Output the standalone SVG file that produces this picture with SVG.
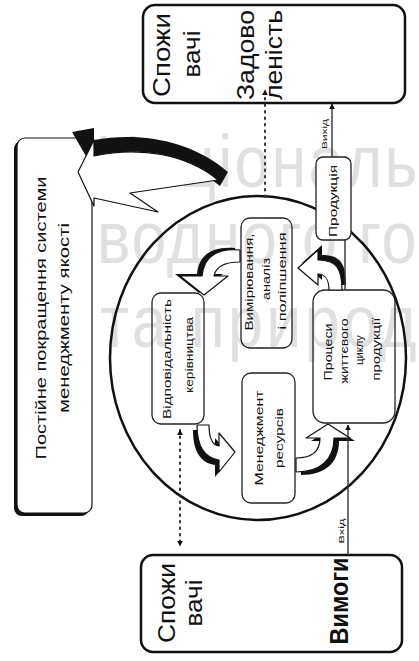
<svg xmlns="http://www.w3.org/2000/svg" width="419" height="661" viewBox="0 0 419 661">
<defs>
<marker id="ah" viewBox="0 0 10 10" refX="9" refY="5" markerWidth="6" markerHeight="6" markerUnits="userSpaceOnUse" orient="auto-start-reverse"><path d="M0,0 L10,5 L0,10 Z" fill="#111"/></marker>
</defs>
<style>
text{font-family:"Liberation Sans",Arial,sans-serif;fill:#111}
.big{font-size:24px}
.bold{font-size:26px;font-weight:bold}
.md{font-size:15px}
.sm{font-size:10px}
.xs{font-size:7px}
.wm{font-size:74px;fill:#e0e0e0}
.box{fill:#fff;stroke:#111;stroke-width:2.5}
.ib{fill:none;stroke:#222;stroke-width:1.3}
.dot{stroke:#333;stroke-width:2;stroke-dasharray:1.5 5;stroke-linecap:round;fill:none}
.ln{stroke:#333;stroke-width:1.4;fill:none}
.sh{fill:#111}
.wa{fill:#fff;stroke:#111;stroke-width:1.2;stroke-linejoin:round}
</style>
<rect width="419" height="661" fill="#fff"/>

<!-- watermark -->
<g id="watermark" transform="scale(0.85,1)">
<text class="wm" x="112" y="187" textLength="379" lengthAdjust="spacing">Національ</text>
<text class="wm" x="114" y="263" textLength="376" lengthAdjust="spacing">водного го</text>
<text class="wm" x="118" y="347" textLength="372" lengthAdjust="spacing">та природ</text>
</g>

<!-- circle -->
<ellipse id="circle" cx="258" cy="358" rx="148" ry="162" fill="none" stroke="#111" stroke-width="2.5"/>

<g id="improvement">
<rect x="14" y="141" width="75" height="375" rx="8" class="sh"/>
<rect x="17" y="138" width="75" height="375" rx="8" fill="#fff" stroke="#111" stroke-width="1.2"/>
<text class="md" x="46" y="318" transform="rotate(-90 46 318)" text-anchor="middle" textLength="283" lengthAdjust="spacingAndGlyphs">Постійне покращення системи</text>
<text class="md" x="69" y="318" transform="rotate(-90 69 318)" text-anchor="middle" textLength="190" lengthAdjust="spacingAndGlyphs">менеджменту якості</text>
</g>

<g id="customers-top">
<rect x="143" y="5" width="262" height="98" rx="12" class="box"/>
<text class="big" x="170" y="55" transform="rotate(-90 170 55)" text-anchor="middle" textLength="84" lengthAdjust="spacingAndGlyphs">Спожи</text>
<text class="big" x="200" y="54" transform="rotate(-90 200 54)" text-anchor="middle" textLength="47" lengthAdjust="spacingAndGlyphs">вачі</text>
<text class="big" x="254" y="55" transform="rotate(-90 254 55)" text-anchor="middle" textLength="90" lengthAdjust="spacingAndGlyphs">Задово</text>
<text class="big" x="282" y="55" transform="rotate(-90 282 55)" text-anchor="middle" textLength="90" lengthAdjust="spacingAndGlyphs">леність</text>
</g>

<g id="customers-bottom">
<rect x="141" y="555" width="261" height="97" rx="12" class="box"/>
<text class="big" x="175" y="603" transform="rotate(-90 175 603)" text-anchor="middle" textLength="80" lengthAdjust="spacingAndGlyphs">Спожи</text>
<text class="big" x="202" y="603" transform="rotate(-90 202 603)" text-anchor="middle" textLength="47" lengthAdjust="spacingAndGlyphs">вачі</text>
<text class="bold" x="348" y="601" transform="rotate(-90 348 601)" text-anchor="middle" textLength="87" lengthAdjust="spacingAndGlyphs">Вимоги</text>
</g>

<g id="management">
<rect x="152" y="293" width="52" height="131" rx="9" class="ib"/>
<text class="sm" x="171" y="359" transform="rotate(-90 171 359)" text-anchor="middle" textLength="120" lengthAdjust="spacingAndGlyphs">Відповідальність</text>
<text class="sm" x="193" y="355" transform="rotate(-90 193 355)" text-anchor="middle" textLength="76" lengthAdjust="spacingAndGlyphs">керівництва</text>
</g>

<g id="measurement">
<rect x="241" y="218" width="51" height="130" rx="9" class="ib"/>
<text class="sm" x="253" y="282" transform="rotate(-90 253 282)" text-anchor="middle" textLength="97" lengthAdjust="spacingAndGlyphs">Вимірювання,</text>
<text class="sm" x="270" y="279" transform="rotate(-90 270 279)" text-anchor="middle" textLength="42" lengthAdjust="spacingAndGlyphs">аналіз</text>
<text class="sm" x="286" y="281" transform="rotate(-90 286 281)" text-anchor="middle" textLength="97" lengthAdjust="spacingAndGlyphs">і поліпшення</text>
</g>

<g id="resources">
<rect x="242" y="373" width="53" height="130" rx="9" class="ib"/>
<text class="sm" x="263" y="438" transform="rotate(-90 263 438)" text-anchor="middle" textLength="95" lengthAdjust="spacingAndGlyphs">Менеджмент</text>
<text class="sm" x="283" y="438" transform="rotate(-90 283 438)" text-anchor="middle" textLength="60" lengthAdjust="spacingAndGlyphs">ресурсів</text>
</g>

<g id="processes">
<rect x="313" y="290" width="82" height="133" rx="12" class="ib"/>
<text class="sm" x="332" y="352" transform="rotate(-90 332 352)" text-anchor="middle" textLength="57" lengthAdjust="spacingAndGlyphs">Процеси</text>
<text class="sm" x="348" y="351" transform="rotate(-90 348 351)" text-anchor="middle" textLength="65" lengthAdjust="spacingAndGlyphs">життєвого</text>
<text class="sm" x="363" y="350" transform="rotate(-90 363 350)" text-anchor="middle" textLength="30" lengthAdjust="spacingAndGlyphs">циклу</text>
<text class="sm" x="380" y="349" transform="rotate(-90 380 349)" text-anchor="middle" textLength="63" lengthAdjust="spacingAndGlyphs">продукції</text>
</g>

<g id="product">
<rect x="316" y="157" width="35" height="83" rx="7" fill="#fff" stroke="#222" stroke-width="1.3"/>
<text class="sm" x="337" y="201" transform="rotate(-90 337 201)" text-anchor="middle" textLength="72" lengthAdjust="spacingAndGlyphs">Продукція</text>
</g>

<g id="connectors">
<!-- improvement big arrow -->
<path class="sh" d="M72,132 L94,128 L94,140 C140,132 190,140 228,172 L220,186 C188,160 140,152 94,158 L94,170 Z"/>
<path class="wa" d="M78,172 L94,140 L94,156 C140,146 186,154 218,180 L130,193 L158,212 L94,198 L94,206 Z"/>
<!-- inner curved arrows -->
<path class="sh" transform="translate(-5,-2)" d="M240,250 C218,248 204,256 202,276 L180,276 L204,295 L228,276 L214,276 C216,266 226,262 240,262 Z"/>
<path class="wa" d="M240,250 C218,248 204,256 202,276 L180,276 L204,295 L228,276 L214,276 C216,266 226,262 240,262 Z"/>
<path class="sh" transform="translate(-4,5)" d="M197,425 C197,447 205,458 219,460 L219,472 L235,452 L219,433 L219,446 C212,445 209,438 209,425 Z"/>
<path class="wa" d="M197,425 C197,447 205,458 219,460 L219,472 L235,452 L219,433 L219,446 C212,445 209,438 209,425 Z"/>
<path class="sh" transform="translate(5,3)" d="M296,458 C313,458 320,450 320,438 L306,438 L328,424 L350,438 L334,438 C334,460 320,472 296,472 Z"/>
<path class="wa" d="M296,458 C313,458 320,450 320,438 L306,438 L328,424 L350,438 L334,438 C334,460 320,472 296,472 Z"/>
<path class="sh" transform="translate(4,-5)" d="M342,290 C342,268 336,260 318,260 L318,250 L298,268 L318,285 L318,274 C325,274 329,280 329,290 Z"/>
<path class="wa" d="M342,290 C342,268 336,260 318,260 L318,250 L298,268 L318,285 L318,274 C325,274 329,280 329,290 Z"/>
<!-- flow lines -->
<path class="ln" d="M348,555 L348,425" marker-end="url(#ah)"/>
<path class="ln" d="M345,290 L345,240"/>
<path class="ln" d="M332,157 L332,104" marker-end="url(#ah)"/>
<text class="xs" x="344" y="531" transform="rotate(-90 344 531)" text-anchor="middle" textLength="25" lengthAdjust="spacingAndGlyphs">Вхід</text>
<text class="xs" x="327" y="134" transform="rotate(-90 327 134)" text-anchor="middle" textLength="30" lengthAdjust="spacingAndGlyphs">Вихід</text>
<!-- information flows -->
<path class="dot" d="M265,197 L265,90" marker-end="url(#ah)"/>
<path class="dot" d="M180,430 L180,546" marker-start="url(#ah)" marker-end="url(#ah)"/>
</g>
</svg>
